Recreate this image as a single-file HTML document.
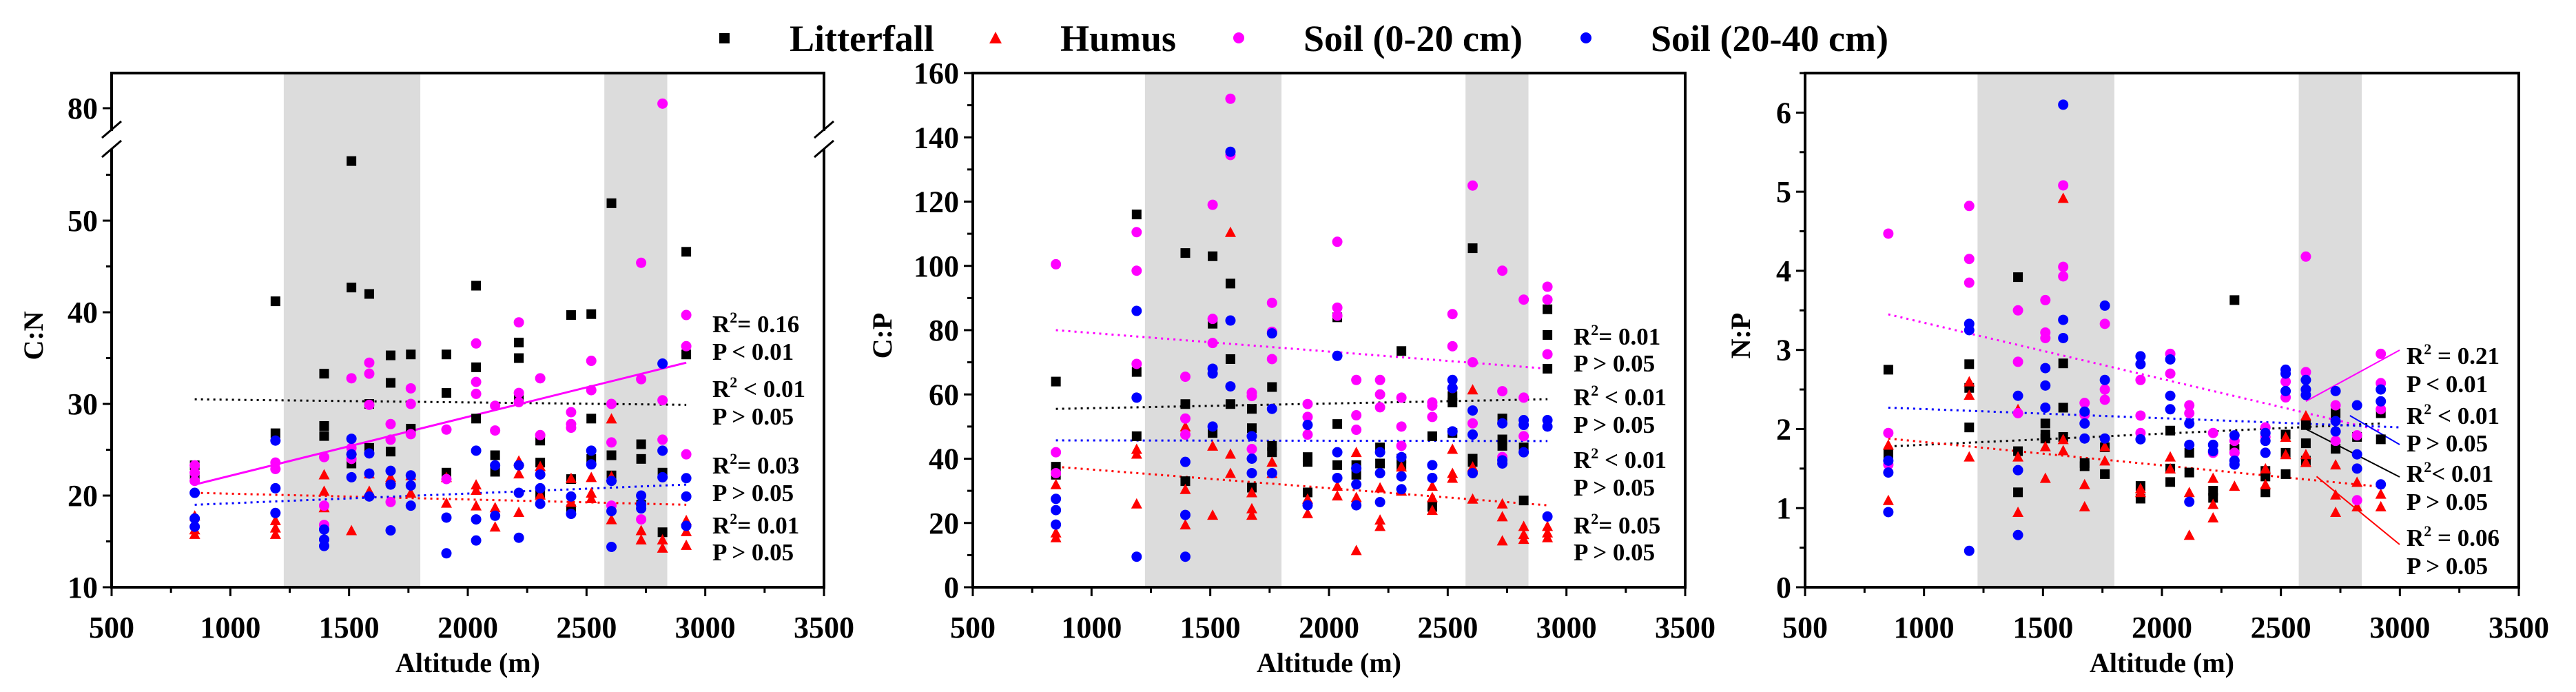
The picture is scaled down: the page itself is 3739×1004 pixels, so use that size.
<!DOCTYPE html>
<html><head><meta charset="utf-8"><style>
html,body{margin:0;padding:0;background:#fff;}
svg{display:block;font-family:"Liberation Serif",serif;font-weight:bold;}
</style></head><body>
<svg id="chart" width="3739" height="1004" viewBox="0 0 3739 1004" xmlns="http://www.w3.org/2000/svg">
<g id="legend">
  <rect x="1044" y="48" width="15" height="15" fill="#000"/>
  <text x="1146" y="74" font-size="54">Litterfall</text>
  <polygon points="1445,46 1454,63 1436,63" fill="#f00"/>
  <text x="1539" y="74" font-size="54">Humus</text>
  <circle cx="1798" cy="55" r="8" fill="#f0f"/>
  <text x="1892" y="74" font-size="54">Soil (0-20 cm)</text>
  <circle cx="2302" cy="55" r="8" fill="#00f"/>
  <text x="2396" y="74" font-size="54">Soil (20-40 cm)</text>
</g>
</svg>
<script>
const altitudes=[850,1190,1395,1510,1585,1675,1760,1910,2035,2115,2215,2305,2435,2520,2605,2730,2820,2920];
const xTicks=[500,1000,1500,2000,2500,3000,3500];
const bands=[[1225,1800],[2575,2840]];

// Panel 1 C:N values per altitude site
const cnLitter=[[23.3,22],[41.2,26.8],[33.3,27.6,26.5],[56.5,42.7,23.5],[42,30,25.2],[35.3,32.3,24.8],[35.4,27.3],[35.4,31.2,22.5],[42.9,34,28.4],[24.4,22.6],[36.7,35,30.5],[26,23.6,20.1],[39.7,21.8,18.5],[39.8,28.4,24],[51.9,24.4,22.2],[25.6,24,19],[22.5,16],[46.6,35.4]];
const cnHumus=[[17.8,16.3,15.8],[17.3,16.5,15.8],[22.3,20.5,18.7],[25,16.2],[22.4,20.5],[22,21.8],[22.2,20.3],[22,19.2],[21.2,20.6,18.9],[18.7,16.6],[23.8,22.4,18.2],[23.2,20.1],[21.9,19.3],[22,20.3,19.7],[28.4,17.4,22.1],[16.2,15.2],[15.2,14.3],[17.3,16.1,14.6]];
const cnSoil1=[[23.3,22.5,21.6],[23.6,22.9],[24.2,18.9,16.8],[32.8,25.2,24],[34.5,33.3,29.9],[27.8,26.1,19.3],[31.7,30,26.7],[27.2,21.8],[36.6,32.4,31.1],[29.8,27.1],[38.9,31.2,30.2],[32.8,26.6],[29.1,27.8,27.4],[34.7,31.5],[30,25.8,18.9],[45.4,32.7,17.4],[80.5,30.4,26.1],[39.7,36.3,24.5]];
const cnSoil2=[[20.3,17.5,16.6],[26,20.8,18.1],[16.3,15.2,14.5],[26.2,24.5,22],[24.6,22.4,19.9],[22.7,21.2,16.2],[22.2,21.1,18.9],[17.6,13.7],[24.9,17.4,15.1],[23.3,17.8],[23.3,20.3,15.4],[22.3,20.8,19.1],[19.9,18],[24.9,23.4],[21.6,18.3,14.4],[20,19,18.6],[34.4,24.9,22],[21.9,19.9,16.7]];
const cnTrends=[[850,30.5,2920,29.9,"#000"],[850,20.3,2920,19.0,"#f00"],[850,21.2,2920,34.5,"#f0f"],[850,19.0,2920,21.2,"#00f"]];
const cnYTicks=[10,20,30,40,50];

// Panel 2 C:P
const cpLitter=[[64,37.5,35],[116,67,47],[104,57,33],[103,82,48],[94.5,71,57],[55.5,49.5,31],[62.3,44,42],[40.5,39,29.5],[84,50.8,38],[38,35],[43.5,38.5],[73.5,40,38],[47,25],[59.5,57.5,48],[105.5,40,39],[52.5,46,44],[43.5,27],[86.5,78.5,68]];
const cpHumus=[[32,17,15.5],[43,41.5,26],[50,30.5,19.5],[44,22.5],[110.5,41.5,35.5],[29.5,24.5,22.5],[39,35.5],[27.5,23],[31.5,28.5],[42,28,11.5],[31,21,19],[37.5,30],[31.5,28,24],[43,35.5,34],[61.5,37.5,27.5],[26,22,14.5],[19,16.5,15],[19,17,15.5]];
const cpSoil1=[[100.5,42,35.5],[110.5,98.5,69.5],[65.5,52.5,47.5],[119,83.5,76],[152,134.5],[60.5,59.5,43],[88.5,71,79.5],[57,53,47.5],[107.5,87,84.5],[64.5,53.5,49],[64.5,60,56],[59,50,44],[57.5,56.5,53],[85,75,62],[125,70,51],[98.5,61,40.5],[89.5,59,47],[93.5,89.5,72.5]];
const cpSoil2=[[27.5,24,19.5],[86,59,9.5],[39,22.5,9.5],[68,66.5,50],[135.5,83,62.5],[47,40,35.5],[79,55.5,35.5],[50.5,25.5],[72,42,34],[37,32,25.5],[42,35.5,26.5],[40.5,34.5,30.5],[38,34],[64.5,62,48.5],[55,47.5,35.5],[51,39.5,38.5],[52,50.5,42],[52,50,22]];
const cpTrends=[[850,55.5,2920,58.5,"#000"],[850,37.5,2920,25.5,"#f00"],[850,80,2920,68,"#f0f"],[850,45.7,2920,45.5,"#00f"]];
const cpYTicks=[0,20,40,60,80,100,120,140,160];

// Panel 3 N:P
const npLitter=[[2.75,1.68],[2.82,2.52,2.02],[3.92,1.72,1.2],[2.07,1.93,1.88],[2.83,2.27,1.9],[1.57,1.53],[1.77,1.43],[1.28,1.12],[1.98,1.5,1.33],[1.7,1.45],[1.22,1.13],[3.63,1.75],[1.47,1.2,1.4],[1.93,1.7,1.43],[2.05,1.82,1.6],[2.2,1.75],[1.9],[2.2,1.87]];
const npHumus=[[1.8,1.1],[2.6,2.43,1.65],[2.25,1.65,0.95],[1.78,1.38],[4.92,1.87,1.73],[1.3,1.02],[1.78,1.6],[1.25,1.2],[1.65,1.5],[1.2,0.66],[1.38,1.05,0.88],[1.28],[1.5,1.3],[1.9,1.68],[2.17,1.68,1.58],[1.55,1.17,0.95],[1.33,1.02],[1.18,1.02]];
const npSoil1=[[4.47,1.95,1.55],[4.82,4.15,3.85],[3.5,2.85,2.2],[3.63,3.22,3.15],[5.08,4.05,3.93],[2.33,2.18],[3.33,2.5,2.37],[2.62,2.17,1.95],[2.95,2.7],[2.3,2.2],[1.95,1.7],[1.85,1.7],[2.02,1.9],[2.6,2.4],[4.18,2.72],[2.3,1.85],[1.92,1.1],[2.95,2.58,2.25]];
const npSoil2=[[1.6,1.45,0.95],[3.33,3.25,0.46],[2.42,1.48,0.66],[2.77,2.55,2.27],[6.1,3.38,3.15],[2.22,2.07,1.88],[3.56,2.62,1.88],[2.92,2.82,1.87],[2.88,2.42,2.25],[2.07,1.8,1.08],[1.8,1.72],[1.92,1.6,1.55],[1.95,1.85,1.7],[2.75,2.7,2.48],[2.62,2.5,2.43],[2.48,2.1,1.97],[2.3,1.68,1.5],[2.5,2.35,1.3]];
const npTrends=[[850,1.78,2920,2.07,"#000"],[850,1.88,2920,1.27,"#f00"],[850,3.45,2920,1.98,"#f0f"],[850,2.27,3010,2.02,"#00f"]];
const npYTicks=[0,1,2,3,4,5,6];

const NS="http://www.w3.org/2000/svg";
const svg=document.getElementById('chart');
function mk(tag,attrs,parent){const e=document.createElementNS(NS,tag);for(const k in attrs)e.setAttribute(k,attrs[k]);(parent||svg).appendChild(e);return e;}

const panels=[
 {id:'cn',left:162,right:1196,ymin:10,ymax:66.1,ticks:cnYTicks,minor:5,title:'C:N',tx:48,series:[cnLitter,cnHumus,cnSoil1,cnSoil2],trends:cnTrends,brk:true,
  notes:[[1034,469,'R','= 0.16'],[1034,509,'','P < 0.01'],[1034,563,'R',' < 0.01'],[1034,603,'','P > 0.05'],[1034,674,'R','= 0.03'],[1034,714,'','P > 0.05'],[1034,761,'R','= 0.01'],[1034,800,'','P > 0.05']]},
 {id:'cp',left:1412,right:2446,ymin:0,ymax:160,ticks:cpYTicks,minor:10,title:'C:P',tx:1280,series:[cpLitter,cpHumus,cpSoil1,cpSoil2],trends:cpTrends,
  notes:[[2284,487,'R','= 0.01'],[2284,526,'','P > 0.05'],[2284,575,'R',' < 0.01'],[2284,615,'','P > 0.05'],[2284,666,'R',' < 0.01'],[2284,706,'','P > 0.05'],[2284,761,'R','= 0.05'],[2284,800,'','P > 0.05']]},
 {id:'np',left:2620,right:3656,ymin:0,ymax:6.5,ticks:npYTicks,minor:0.5,title:'N:P',tx:2526,series:[npLitter,npHumus,npSoil1,npSoil2],trends:npTrends,
  notes:[[3493,515,'R',' = 0.21'],[3493,556,'','P < 0.01'],[3493,602,'R',' < 0.01'],[3493,642,'','P > 0.05'],[3493,686,'R','< 0.01'],[3493,727,'','P > 0.05'],[3493,779,'R',' = 0.06'],[3493,820,'','P > 0.05']],
  leaders:[[2605,2.35,3483,508,'#f0f'],[2605,2.0,3483,692,'#000'],[2790,2.17,3483,645,'#00f'],[2650,1.4,3483,790,'#f00']]}
];
const TOP=106,BOT=852;
const colors=['#000','#f00','#f0f','#00f'];
const names=['litterfall','humus','soil-0-20','soil-20-40'];

panels.forEach(p=>{
  const g=mk('g',{});
  
  
  const xs=a=>p.left+(a-500)/3000*(p.right-p.left);
  const ys=v=>{
    if(p.brk&&v>60) return 157+(80-v)*13.3;
    return BOT-(v-p.ymin)/(p.ymax-p.ymin)*(BOT-TOP);
  };
  bands.forEach((b,i)=>{
    const r=mk('rect',{x:xs(b[0]),y:TOP,width:xs(b[1])-xs(b[0]),height:BOT-TOP,fill:'#dcdcdc'},g);
    
    
  });
  p.trends.forEach((t,i)=>{
    const l=mk('line',{x1:xs(t[0]),y1:ys(t[1]),x2:xs(t[2]),y2:ys(t[3]),stroke:t[4],'stroke-width':3,'stroke-dasharray':(p.id==='cn'&&i===2)?'none':'3,6'},g);
    
    
  });
  (p.leaders||[]).forEach(t=>{
    const l=mk('line',{x1:xs(t[0]),y1:ys(t[1]),x2:t[2],y2:t[3],stroke:t[4],'stroke-width':2},g);
    
    
  });
  p.series.forEach((s,si)=>{
    s.forEach((vals,ai)=>{
      vals.forEach(v=>{
        const cx=xs(altitudes[ai]),cy=ys(v);let m;
        if(si===0) m=mk('rect',{x:cx-7,y:cy-7,width:14,height:14,fill:colors[si]},g);
        else if(si===1) m=mk('polygon',{points:`${cx},${cy-8} ${cx+8},${cy+7} ${cx-8},${cy+7}`,fill:colors[si]},g);
        else m=mk('circle',{cx:cx,cy:cy,r:7.5,fill:colors[si]},g);
        
        
      });
    });
  });
  const box=mk('rect',{x:p.left,y:TOP,width:p.right-p.left,height:BOT-TOP,fill:'none',stroke:'#000','stroke-width':4},g);
  
  
  for(let a=500;a<=3500;a+=250){
    const major=a%500===0;
    const t=mk('line',{x1:xs(a),y1:BOT,x2:xs(a),y2:BOT+(major?13:8),stroke:'#000','stroke-width':3},g);
    
    
  }
  xTicks.forEach(a=>{
    const t=mk('text',{x:xs(a),y:925,'font-size':44,'text-anchor':'middle'},g);
    t.textContent=a;
    
    
  });
  const ymaxT=p.brk?55:p.ymax;
  for(let v=p.ymin;v<=ymaxT+1e-9;v+=p.minor){
    const major=p.ticks.some(t=>Math.abs(t-v)<1e-6);
    const t=mk('line',{x1:p.left-(major?13:8),y1:ys(v),x2:p.left,y2:ys(v),stroke:'#000','stroke-width':3},g);
    
    
  }
  const yl=p.ticks.slice();if(p.brk)yl.push(80);
  yl.forEach(v=>{
    if(p.brk&&v===80){mk('line',{x1:p.left-13,y1:ys(80),x2:p.left,y2:ys(80),stroke:'#000','stroke-width':3},g);}
    const t=mk('text',{x:p.left-20,y:ys(v)+15,'font-size':44,'text-anchor':'end'},g);
    t.textContent=v;
    
    
  });
  if(p.brk){
    [p.left,p.right].forEach(x=>{
      mk('rect',{x:x-4,y:190,width:8,height:26,fill:'#fff'},g);
      const a=mk('line',{x1:x-14,y1:200,x2:x+14,y2:176,stroke:'#000','stroke-width':3},g);
      
      
      const b=mk('line',{x1:x-14,y1:228,x2:x+14,y2:204,stroke:'#000','stroke-width':3},g);
      
      
    });
  }
  const xt=mk('text',{x:(p.left+p.right)/2,y:975,'font-size':40,'text-anchor':'middle'},g);
  xt.textContent='Altitude (m)';
  
  
  const yt=mk('text',{x:p.tx,y:487,'font-size':40,'text-anchor':'middle',transform:`rotate(-90 ${p.tx} 487)`,dy:14},g);
  yt.textContent=p.title;
  
  
  p.notes.forEach(n=>{
    const t=mk('text',{x:n[0],y:n[1]+13,'font-size':35},g);
    
    
    if(n[2]){
      t.textContent='R';
      const s=mk('tspan',{dy:-14,'font-size':22},t);s.textContent='2';
      const r=mk('tspan',{dy:14},t);r.textContent=n[3];
    } else t.textContent=n[3];
  });
});
</script>
</body></html>
